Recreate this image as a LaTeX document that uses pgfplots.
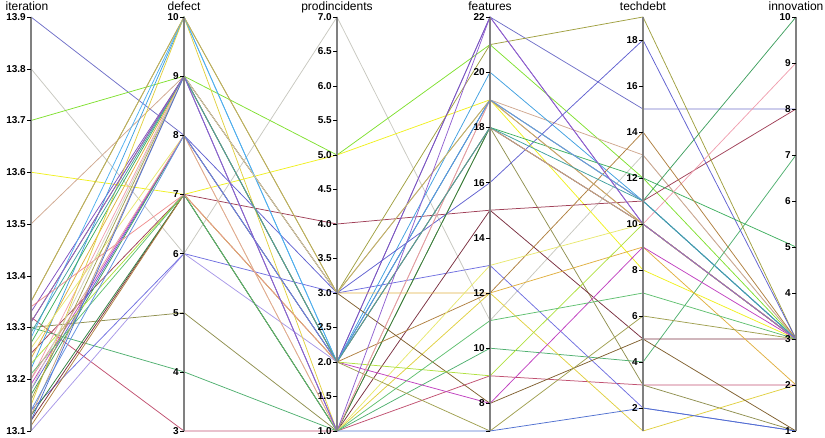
\documentclass[border=0pt]{standalone}
\usepackage{pgfplots}
\pgfplotsset{compat=1.18}
\usepackage{fontspec}
\setmainfont{Liberation Sans}
\definecolor{axgray}{HTML}{808080}
\definecolor{cA}{HTML}{7070C8}
\definecolor{cB}{HTML}{C8C8C0}
\definecolor{cC}{HTML}{80E030}
\definecolor{cD}{HTML}{F0F020}
\definecolor{cE}{HTML}{D0A890}
\definecolor{cF}{HTML}{C05070}
\definecolor{cG}{HTML}{909050}
\definecolor{cH}{HTML}{50B070}
\definecolor{cI}{HTML}{A898E8}
\definecolor{cJ}{HTML}{7070E0}
\definecolor{cK}{HTML}{A04058}
\definecolor{cL}{HTML}{7A3040}
\definecolor{cM}{HTML}{A0A040}
\definecolor{cN}{HTML}{8050C0}
\definecolor{cO}{HTML}{40A0E0}
\definecolor{cP}{HTML}{6060D0}
\definecolor{cQ}{HTML}{40B060}
\definecolor{cR}{HTML}{F0A0B0}
\definecolor{cS}{HTML}{40A060}
\definecolor{cT}{HTML}{308040}
\definecolor{cU}{HTML}{E0B040}
\definecolor{cV}{HTML}{B08040}
\definecolor{cW}{HTML}{E0D040}
\definecolor{cX}{HTML}{E8E870}
\definecolor{cY}{HTML}{806030}
\definecolor{cZ}{HTML}{C040C0}
\definecolor{ca}{HTML}{B0E040}
\definecolor{cb}{HTML}{A0A050}
\definecolor{cc}{HTML}{60C070}
\definecolor{cd}{HTML}{50B0F0}
\definecolor{ce}{HTML}{F09090}
\definecolor{cf}{HTML}{E0A0A0}
\definecolor{cg}{HTML}{C0A080}
\definecolor{ch}{HTML}{D0D0C0}
\definecolor{ci}{HTML}{5070D0}
\definecolor{cj}{HTML}{C0B060}
\definecolor{ck}{HTML}{6090E0}
\definecolor{cl}{HTML}{40A0A0}
\definecolor{cm}{HTML}{9060D0}
% one polyline per record: colour, iteration, defect, prodincidents, features, techdebt, innovation
\newcommand\pline[7]{%
  \pgfmathsetmacro\pA{(#2-13.1)/0.8}%
  \pgfmathsetmacro\pB{(#3-3)/7}%
  \pgfmathsetmacro\pC{(#4-1)/6}%
  \pgfmathsetmacro\pD{(#5-7)/15}%
  \pgfmathsetmacro\pE{(#6-1)/18}%
  \pgfmathsetmacro\pF{(#7-1)/9}%
  \edef\temp{\noexpand\addplot[draw=#1, mark=none, line width=0.75pt] coordinates {(0,\pA) (1,\pB) (2,\pC) (3,\pD) (4,\pE) (5,\pF)};}%
  \temp}
\begin{document}
\begin{tikzpicture}
\begin{axis}[scale only axis, width=765pt, height=414pt, xmin=0, xmax=5, ymin=0, ymax=1, hide axis, clip=false]
\pline{cA}{13.90}{8}{2}{22}{15}{8}
\pline{cB}{13.80}{6}{7}{11}{13}{3}
\pline{cC}{13.70}{9}{5}{21}{12}{3}
\pline{cD}{13.60}{7}{5}{19}{8}{3}
\pline{cE}{13.50}{9}{3}{19}{13}{3}
\pline{cF}{13.32}{3}{1}{9}{3}{2}
\pline{cG}{13.30}{5}{1}{18}{3}{1}
\pline{cH}{13.30}{4}{1}{10}{4}{7}
\pline{cI}{13.10}{6}{2}{18}{10}{3}
\pline{cJ}{13.14}{6}{3}{13}{2}{1}
\pline{cK}{13.25}{7}{4}{15}{11}{8}
\pline{cL}{13.12}{7}{1}{15}{5}{3}
\pline{cM}{13.35}{10}{3}{21}{19}{3}
\pline{cN}{13.33}{9}{2}{22}{10}{3}
\pline{cO}{13.22}{10}{2}{20}{11}{3}
\pline{cP}{13.18}{8}{3}{16}{18}{3}
\pline{cQ}{13.27}{9}{2}{18}{12}{5}
\pline{cR}{13.20}{9}{1}{19}{10}{9}
\pline{cS}{13.17}{8}{2}{19}{11}{10}
\pline{cT}{13.13}{7}{1}{18}{10}{3}
\pline{cU}{13.24}{9}{3}{12}{9}{2}
\pline{cV}{13.11}{7}{2}{12}{14}{3}
\pline{cW}{13.15}{10}{1}{12}{1}{2}
\pline{cX}{13.26}{8}{1}{13}{10}{3}
\pline{cY}{13.31}{9}{3}{8}{5}{1}
\pline{cZ}{13.19}{8}{2}{8}{9}{3}
\pline{ca}{13.23}{7}{2}{9}{10}{3}
\pline{cb}{13.16}{9}{2}{7}{6}{3}
\pline{cc}{13.21}{7}{1}{11}{7}{3}
\pline{cd}{13.28}{10}{2}{19}{11}{3}
\pline{ce}{13.34}{7}{2}{18}{10}{3}
\pline{cf}{13.20}{8}{1}{19}{10}{3}
\pline{cg}{13.13}{9}{2}{18}{10}{3}
\pline{ch}{13.18}{9}{3}{19}{11}{3}
\pline{ci}{13.12}{9}{1}{7}{2}{1}
\pline{cj}{13.35}{10}{3}{19}{10}{3}
\pline{ck}{13.14}{8}{2}{19}{11}{3}
\pline{cl}{13.29}{9}{2}{18}{11}{3}
\pline{cm}{13.31}{9}{1}{22}{10}{3}
\end{axis}
\begin{scope}[font=\fontsize{12}{14}\selectfont]
\foreach \x in {0,153,306,459,612,765} \draw[line width=1.6pt, axgray] (\x pt,0) -- (\x pt,414pt);
% iteration
\foreach \k in {1,...,9}{\pgfmathsetmacro\yy{(\k-1)*414/8}\draw (0,\yy pt) -- ++(-4pt,0) node[left,inner sep=1pt,font=\bfseries]{13.\k};}
% defect
\foreach \v in {3,...,10}{\pgfmathsetmacro\yy{(\v-3)*414/7}\draw (153pt,\yy pt) -- ++(-4pt,0) node[left,inner sep=1pt,font=\bfseries]{\v};}
% prodincidents
\foreach \k/\l in {0/1.0,1/1.5,2/2.0,3/2.5,4/3.0,5/3.5,6/4.0,7/4.5,8/5.0,9/5.5,10/6.0,11/6.5,12/7.0}{\pgfmathsetmacro\yy{\k*414/12}\draw (306pt,\yy pt) -- ++(-4pt,0) node[left,inner sep=1pt,font=\bfseries]{\l};}
% features
\draw (459pt,0) -- ++(-4pt,0);
\foreach \v in {8,10,...,22}{\pgfmathsetmacro\yy{(\v-7)*414/15}\draw (459pt,\yy pt) -- ++(-4pt,0) node[left,inner sep=1pt,font=\bfseries]{\v};}
% techdebt
\foreach \v in {2,4,...,18}{\pgfmathsetmacro\yy{(\v-1)*414/18}\draw (612pt,\yy pt) -- ++(-4pt,0) node[left,inner sep=1pt,font=\bfseries]{\v};}
% innovation
\foreach \v in {1,...,10}{\pgfmathsetmacro\yy{(\v-1)*414/9}\draw (765pt,\yy pt) -- ++(-4pt,0) node[left,inner sep=1pt,font=\bfseries]{\v};}
% titles
\node[anchor=base] at (-4pt,420pt) {iteration};
\node[anchor=base] at (153pt,420pt) {defect};
\node[anchor=base] at (306pt,420pt) {prodincidents};
\node[anchor=base] at (459pt,420pt) {features};
\node[anchor=base] at (612pt,420pt) {techdebt};
\node[anchor=base] at (765pt,420pt) {innovation};
\end{scope}
\pgfresetboundingbox
\path (-31pt,-6pt) rectangle (794pt,431pt);
\end{tikzpicture}
\end{document}
